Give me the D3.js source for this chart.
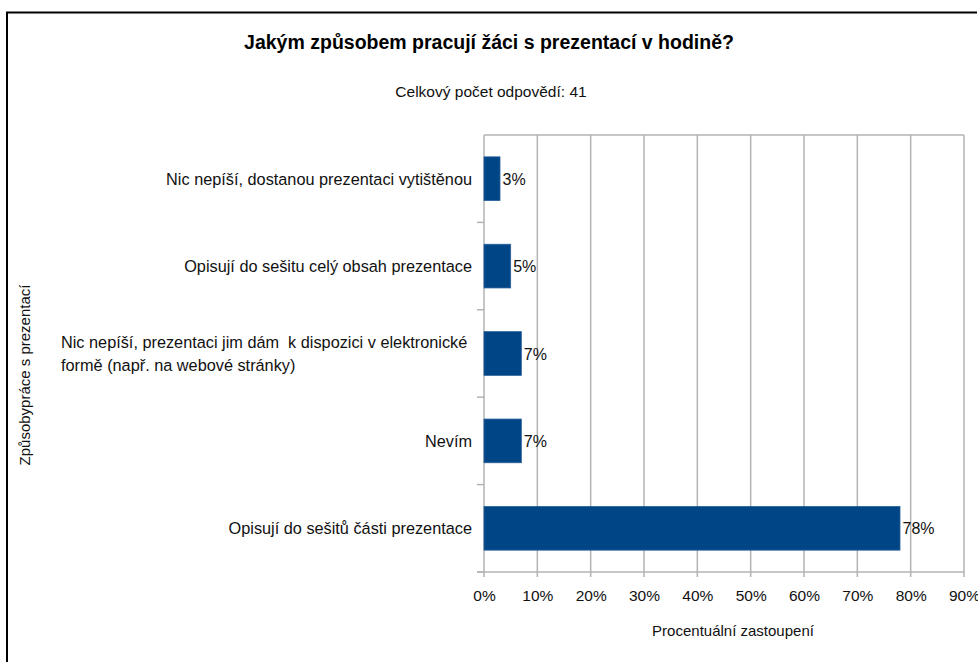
<!DOCTYPE html>
<html>
<head>
<meta charset="utf-8">
<script src="https://cdn.jsdelivr.net/npm/d3@7"></script>
<style>
  html, body { margin: 0; padding: 0; background: #fff; }
  svg { display: block; font-family: "Liberation Sans", Arial, sans-serif; }
  text { white-space: pre; }
</style>
</head>
<body>
<svg id="chart" width="978" height="662"></svg>
<script>
// Survey answers (41 responses), share of each answer in percent
const categories = [
  ["Nic nepíší, dostanou prezentaci vytištěnou"],
  ["Opisují do sešitu celý obsah prezentace"],
  ["Nic nepíší, prezentaci jim dám  k dispozici v elektronické", "formě (např. na webové stránky)"],
  ["Nevím"],
  ["Opisují do sešitů části prezentace"]
];
const values = [3, 5, 7, 7, 78];
const xTicks = [0, 10, 20, 30, 40, 50, 60, 70, 80, 90];

const titleText = "Jakým způsobem pracují žáci s prezentací v hodině?";
const subtitleText = "Celkový počet odpovědí: 41";
const xTitle = "Procentuální zastoupení";
const yTitle = "Způsobypráce s prezentací";

const svg = d3.select("#chart");
const W = 978, H = 662;

// outer frame
svg.append("path")
  .attr("d", `M7,${H + 2} V12.5 H977`)
  .attr("fill", "none")
  .attr("stroke", "#000")
  .attr("stroke-width", 2);

const plot = { left: 484, right: 964, top: 135, bottom: 572 };

const x = d3.scaleLinear().domain([0, 90]).range([plot.left, plot.right]);
const y = d3.scaleBand()
  .domain(d3.range(categories.length))
  .range([plot.top, plot.bottom])
  .paddingInner(0.5)
  .paddingOuter(0.25);

const grid = "#b3b3b3";

// vertical grid lines
svg.append("g").selectAll("line")
  .data(xTicks)
  .join("line")
  .attr("x1", d => x(d)).attr("x2", d => x(d))
  .attr("y1", plot.top).attr("y2", plot.bottom + 5)
  .attr("stroke", grid).attr("stroke-width", 1.5);

// top edge of the plot area
svg.append("line")
  .attr("x1", plot.left).attr("x2", plot.right)
  .attr("y1", plot.top).attr("y2", plot.top)
  .attr("stroke", grid).attr("stroke-width", 1.5);

// x axis line
svg.append("line")
  .attr("x1", plot.left - 7).attr("x2", plot.right)
  .attr("y1", plot.bottom).attr("y2", plot.bottom)
  .attr("stroke", grid).attr("stroke-width", 1.5);

// category separators on the y axis
const step = y.step();
const sepYs = d3.range(categories.length + 1).map(i => plot.top + i * step);
svg.append("g").selectAll("line")
  .data(sepYs.slice(1))
  .join("line")
  .attr("x1", plot.left - 7).attr("x2", plot.left)
  .attr("y1", d => d).attr("y2", d => d)
  .attr("stroke", grid).attr("stroke-width", 1.5);

// x tick labels
const xAxis = d3.axisBottom(x).tickValues(xTicks).tickFormat(d => d + "%").tickSize(0).tickPadding(0);
const xg = svg.append("g").attr("transform", `translate(0,${plot.bottom})`).call(xAxis);
xg.select(".domain").remove();
xg.selectAll("text")
  .attr("y", 28.5)
  .attr("dy", null)
  .attr("font-size", 15.5)
  .attr("font-family", "Liberation Sans, Arial, sans-serif")
  .attr("fill", "#111");

// bars
svg.append("g").selectAll("rect")
  .data(values)
  .join("rect")
  .attr("x", x(0))
  .attr("y", (d, i) => y(i))
  .attr("width", d => x(d) - x(0))
  .attr("height", y.bandwidth())
  .attr("fill", "#004586")
  .attr("stroke", "#2a5f9a")
  .attr("stroke-width", 0.8);

// value labels
svg.append("g").selectAll("text")
  .data(values)
  .join("text")
  .attr("x", d => x(d) + 2.5)
  .attr("y", (d, i) => y(i) + y.bandwidth() / 2 + 6)
  .attr("font-size", 16)
  .attr("fill", "#111")
  .text(d => d + "%");

// category labels
const catG = svg.append("g");
categories.forEach((lines, i) => {
  const cy = y(i) + y.bandwidth() / 2;
  if (lines.length === 1) {
    catG.append("text")
      .attr("x", 472)
      .attr("y", cy + 6)
      .attr("text-anchor", "end")
      .attr("font-size", 16.3)
      .attr("fill", "#111")
      .text(lines[0]);
  } else {
    // wrapped label: left-aligned block
    const t = catG.append("text")
      .attr("font-size", 16.3)
      .attr("fill", "#111");
    lines.forEach((ln, k) => {
      t.append("tspan")
        .attr("x", 61)
        .attr("y", cy + 6 + (k - (lines.length - 1) / 2) * 23)
        .text(ln);
    });
  }
});

// titles
svg.append("text")
  .attr("x", 489).attr("y", 49)
  .attr("text-anchor", "middle")
  .attr("font-size", 19.5).attr("font-weight", "bold")
  .attr("fill", "#000")
  .text(titleText);

svg.append("text")
  .attr("x", 491).attr("y", 97)
  .attr("text-anchor", "middle")
  .attr("font-size", 15.5)
  .attr("fill", "#111")
  .text(subtitleText);

svg.append("text")
  .attr("x", 733).attr("y", 635.5)
  .attr("text-anchor", "middle")
  .attr("font-size", 15)
  .attr("fill", "#111")
  .text(xTitle);

svg.append("text")
  .attr("transform", "translate(30,375) rotate(-90)")
  .attr("text-anchor", "middle")
  .attr("font-size", 15)
  .attr("fill", "#111")
  .text(yTitle);
</script>
</body>
</html>
